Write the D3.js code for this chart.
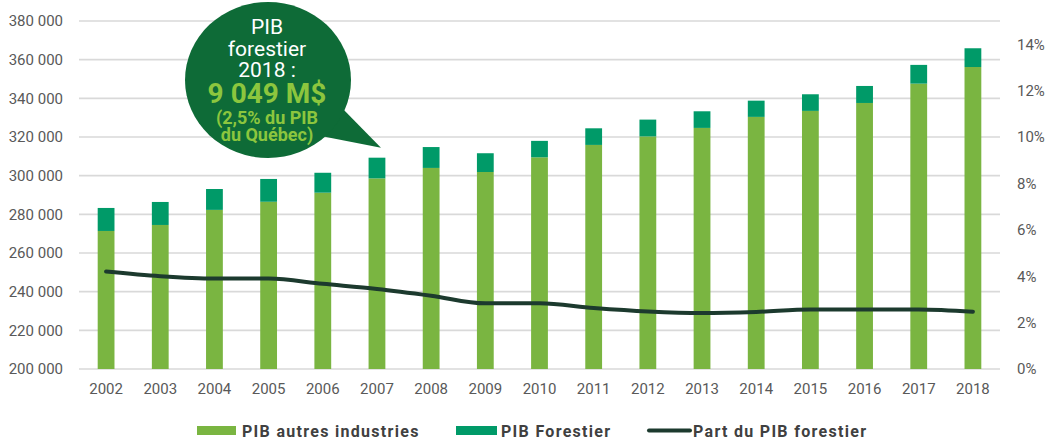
<!DOCTYPE html>
<html>
<meta charset="utf-8">
<style>
body { margin: 0; background: #fff; font-family: Roboto, sans-serif; }
.axis text { fill: #595959; font-size: 15px; font-family: Roboto, sans-serif; }
.grid line { stroke: #d9d9d9; stroke-width: 1.6; }
.legend text { fill: #404040; font-size: 16px; font-weight: bold; letter-spacing: 1.3px; }
</style>
<body>
<script src="https://d3js.org/d3.v7.min.js"></script>
<script>
var width = 1049, height = 439;

// data (M$)
var years = ["2002","2003","2004","2005","2006","2007","2008","2009","2010","2011","2012","2013","2014","2015","2016","2017","2018"];
var autres = [271400, 274500, 282300, 286500, 291200, 298600, 304000, 301900, 309500, 315900, 320300, 324700, 330400, 333500, 337600, 347600, 356200];
var forestier = [11900, 11900, 10800, 11800, 10300, 10700, 10800, 9700, 8500, 8600, 8700, 8600, 8400, 8600, 8800, 9700, 9700];
var part = [0.042, 0.040, 0.039, 0.039, 0.0367, 0.0345, 0.0316, 0.0283, 0.0283, 0.0263, 0.0248, 0.0241, 0.0246, 0.0257, 0.0257, 0.0257, 0.0247];
var leftTicks = [200000, 220000, 240000, 260000, 280000, 300000, 320000, 340000, 360000, 380000];
var rightTicks = [0, 0.02, 0.04, 0.06, 0.08, 0.10, 0.12, 0.14];

var cAutres = "#7ab541", cForest = "#009a68", cLine = "#1c3a2e";

var x = d3.scaleBand().domain(years).range([79, 1000]).paddingInner(0.69).paddingOuter(0.345);
var y = d3.scaleLinear().domain([200000, 380000]).range([369, 21]);
var y2 = d3.scaleLinear().domain([0, 0.15]).range([369, 21]);

var svg = d3.select("body").append("svg")
    .attr("width", width)
    .attr("height", height);

// gridlines
svg.append("g").attr("class", "grid")
  .selectAll("line").data(leftTicks).enter().append("line")
    .attr("x1", 79).attr("x2", 1000)
    .attr("y1", function(d) { return y(d); })
    .attr("y2", function(d) { return y(d); });

// left axis
var fmt = function(d) { return d3.format(",")(d).replace(/,/g, " "); };
svg.append("g").attr("class", "axis")
    .attr("transform", "translate(72,0)")
    .call(d3.axisLeft(y).tickValues(leftTicks).tickFormat(fmt).tickSize(0).tickPadding(9))
    .call(function(g) { g.select(".domain").remove(); });

// right axis
svg.append("g").attr("class", "axis")
    .attr("transform", "translate(1007,0)")
    .call(d3.axisRight(y2).tickValues(rightTicks).tickFormat(d3.format(".0%")).tickSize(0).tickPadding(10))
    .call(function(g) { g.select(".domain").remove(); });

// x axis
svg.append("g").attr("class", "axis")
    .attr("transform", "translate(0,376)")
    .call(d3.axisBottom(x).tickSize(0).tickPadding(7))
    .call(function(g) { g.select(".domain").remove(); });

// stacked bars
svg.append("g").selectAll("rect").data(years).enter().append("rect")
    .attr("x", function(d) { return x(d); })
    .attr("width", x.bandwidth())
    .attr("y", function(d, i) { return y(autres[i]); })
    .attr("height", function(d, i) { return y(200000) - y(autres[i]); })
    .style("fill", cAutres);

svg.append("g").selectAll("rect").data(years).enter().append("rect")
    .attr("x", function(d) { return x(d); })
    .attr("width", x.bandwidth())
    .attr("y", function(d, i) { return y(autres[i] + forestier[i]); })
    .attr("height", function(d, i) { return y(autres[i]) - y(autres[i] + forestier[i]); })
    .style("fill", cForest);

// share line
var line = d3.line()
    .x(function(d, i) { return x(years[i]) + x.bandwidth() / 2; })
    .y(function(d) { return y2(d); })
    .curve(d3.curveMonotoneX);
svg.append("path")
    .datum(part)
    .attr("d", line)
    .style("fill", "none")
    .style("stroke", cLine)
    .style("stroke-width", 4)
    .style("stroke-linecap", "round");

// speech bubble
var bub = svg.append("g");
var tipX = x("2007") + x.bandwidth() / 2 + 4,
    tipY = y(autres[5] + forestier[5]) - 10;
bub.append("path")
    .attr("d", "M340,106 L" + tipX + "," + tipY + " L321,136 Z")
    .style("fill", "#0e6b37");
bub.append("ellipse")
    .attr("cx", 268).attr("cy", 80).attr("rx", 83).attr("ry", 78)
    .style("fill", "#0e6b37");
var lines = [
  {t: "PIB", y: 34, s: 21, w: "normal", c: "#fff"},
  {t: "forestier", y: 56, s: 21, w: "normal", c: "#fff"},
  {t: "2018 :", y: 77, s: 21, w: "normal", c: "#fff"},
  {t: "9 049 M$", y: 103, s: 28, w: "bold", c: "#8cc63e"},
  {t: "(2,5% du PIB", y: 124, s: 18, w: "bold", c: "#8cc63e"},
  {t: "du Québec)", y: 141, s: 18, w: "bold", c: "#8cc63e"}
];
bub.selectAll("text").data(lines).enter().append("text")
    .attr("x", 267)
    .attr("y", function(d) { return d.y; })
    .attr("text-anchor", "middle")
    .style("font-size", function(d) { return d.s + "px"; })
    .style("font-weight", function(d) { return d.w; })
    .style("fill", function(d) { return d.c; })
    .text(function(d) { return d.t; });

// legend
var lg = svg.append("g").attr("class", "legend");
lg.append("rect").attr("x", 197).attr("y", 426).attr("width", 39).attr("height", 9).style("fill", cAutres);
lg.append("text").attr("x", 242).attr("y", 436.5).text("PIB autres industries");
lg.append("rect").attr("x", 456).attr("y", 426).attr("width", 41).attr("height", 9).style("fill", cForest);
lg.append("text").attr("x", 501).attr("y", 436.5).text("PIB Forestier");
lg.append("line").attr("x1", 649).attr("x2", 690).attr("y1", 430.5).attr("y2", 430.5)
    .style("stroke", cLine).style("stroke-width", 4).style("stroke-linecap", "round");
lg.append("text").attr("x", 693).attr("y", 436.5).text("Part du PIB forestier");
</script>
</body>
</html>
